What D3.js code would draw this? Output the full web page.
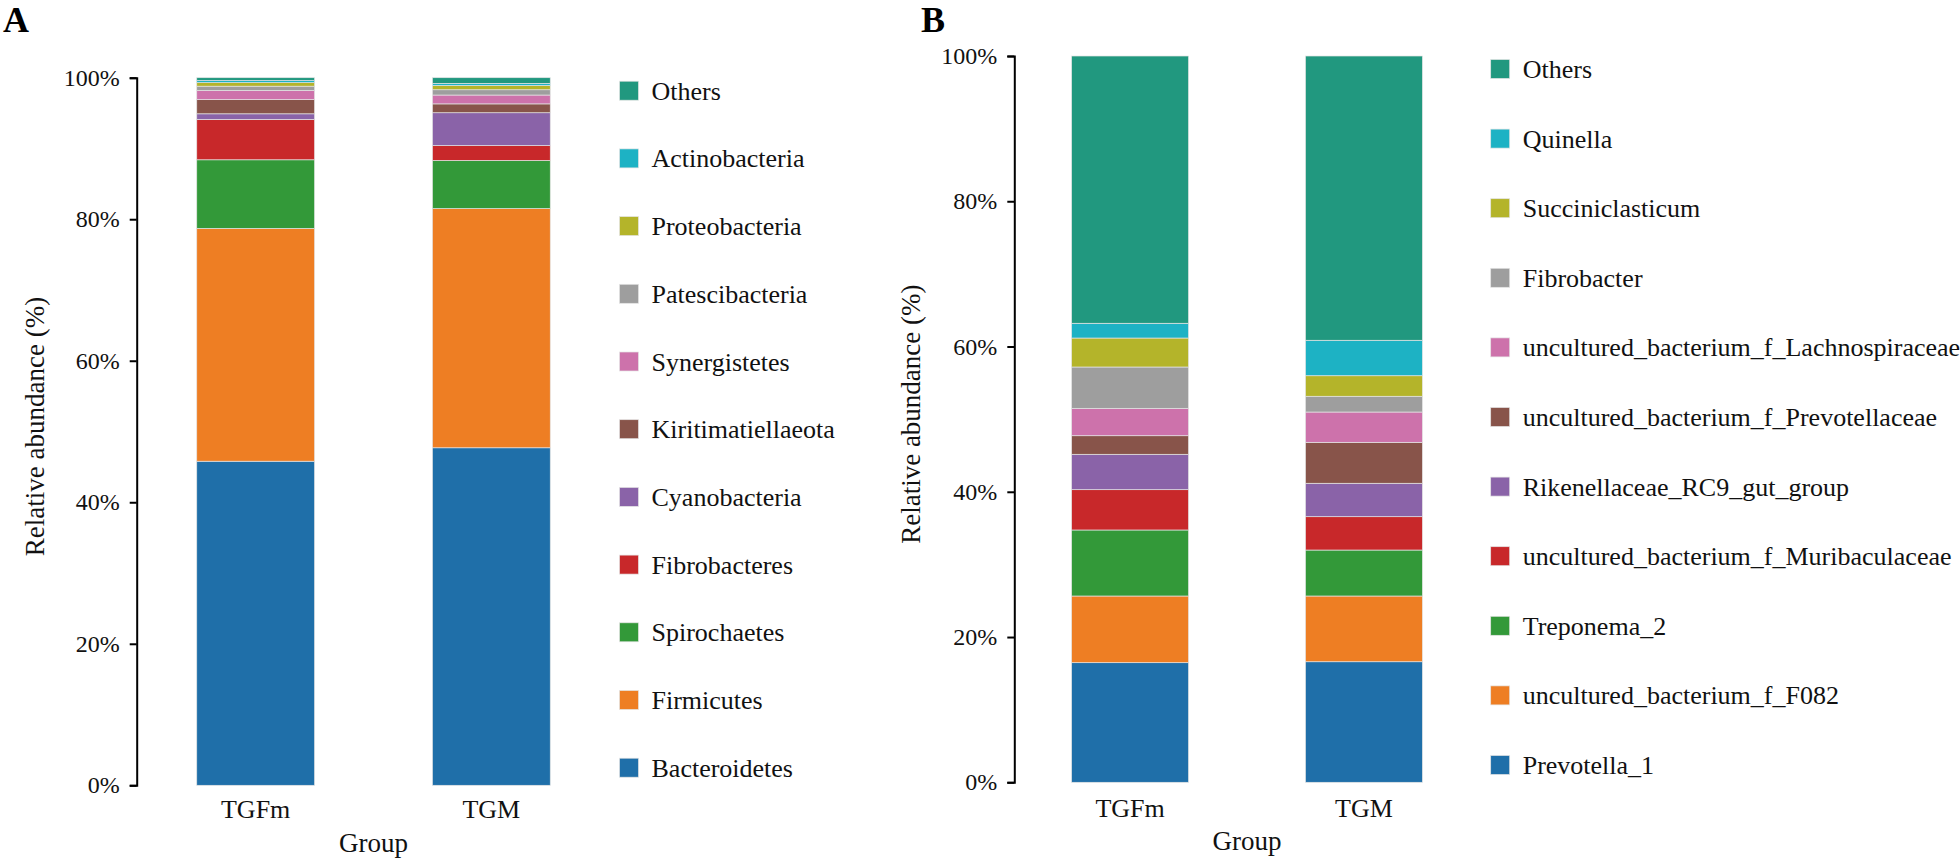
<!DOCTYPE html>
<html>
<head>
<meta charset="utf-8">
<script src="https://cdn.jsdelivr.net/npm/d3@7"></script>
<style>
  body { margin: 0; background: #fff; }
  svg { display: block; }
  svg text { font-family: 'Liberation Serif', 'Times New Roman', serif !important; }
</style>
</head>
<body>
<svg id="chart" width="1960" height="860"></svg>
<script>
// groups on the x axis
const groups = ['TGFm', 'TGM'];
const yTicks = [0, 20, 40, 60, 80, 100];

// panel A - phylum level, listed bottom to top
const phylumNames = ['Bacteroidetes', 'Firmicutes', 'Spirochaetes', 'Fibrobacteres', 'Cyanobacteria',
  'Kiritimatiellaeota', 'Synergistetes', 'Patescibacteria', 'Proteobacteria', 'Actinobacteria', 'Others'];
const phylumTGFm = [45.8, 32.9, 9.7, 5.7, 0.8, 2.0, 1.3, 0.6, 0.5, 0.3, 0.4];
const phylumTGM = [47.7, 33.8, 6.8, 2.1, 4.65, 1.25, 1.25, 0.75, 0.6, 0.3, 0.8];

// panel B - genus level, listed bottom to top
const genusNames = ['Prevotella_1', 'uncultured_bacterium_f_F082', 'Treponema_2',
  'uncultured_bacterium_f_Muribaculaceae', 'Rikenellaceae_RC9_gut_group',
  'uncultured_bacterium_f_Prevotellaceae', 'uncultured_bacterium_f_Lachnospiraceae',
  'Fibrobacter', 'Succiniclasticum', 'Quinella', 'Others'];
const genusTGFm = [16.47, 9.18, 9.09, 5.55, 4.87, 2.56, 3.77, 5.69, 3.99, 2.03, 36.8];
const genusTGM = [16.6, 9.05, 6.33, 4.59, 4.6, 5.64, 4.17, 2.17, 2.83, 4.88, 39.14];

const palette = ['#1f6fa9', '#ee7e23', '#339939', '#c8282a', '#8a63a8', '#88544a',
  '#cd72ab', '#9e9e9e', '#b4b42a', '#1db2c4', '#21987f'];

const serif = "'Liberation Serif', 'Times New Roman', serif";
const svg = d3.select('#chart');

function drawPanel(opts) {
  const { names, valuesByGroup, letter, letterX, axisX, yTop, yBottom,
    xRange, outerPad, legendX, legendTop, legendStep, titleX, xLabelPad, groupY } = opts;

  // build table for d3.stack
  const table = groups.map((g, gi) => {
    const row = { group: g };
    names.forEach((n, i) => { row[n] = valuesByGroup[gi][i]; });
    return row;
  });
  const color = d3.scaleOrdinal().domain(names).range(palette);

  const x = d3.scaleBand()
    .domain(groups)
    .range(xRange)
    .paddingInner(0.5)
    .paddingOuter(outerPad);

  const y = d3.scaleLinear()
    .domain([0, 100])
    .range([yBottom, yTop]);

  const series = d3.stack().keys(names)(table);

  const g = svg.append('g').attr('font-family', serif);

  // bars
  g.selectAll('.layer')
    .data(series)
    .enter()
    .append('g')
    .attr('fill', d => color(d.key))
    .selectAll('rect')
    .data(d => d)
    .enter()
    .append('rect')
    .attr('x', d => x(d.data.group))
    .attr('y', d => y(d[1]))
    .attr('width', x.bandwidth())
    .attr('height', d => y(d[0]) - y(d[1]))
    .attr('stroke', '#e4e4e4')
    .attr('stroke-width', 0.7);

  // y axis
  const yAxis = g.append('g')
    .attr('transform', `translate(${axisX},0)`)
    .call(d3.axisLeft(y)
      .tickValues(yTicks)
      .tickFormat(d => d + '%')
      .tickSize(7)
      .tickSizeOuter(7)
      .tickPadding(10))
    .attr('font-family', serif)
    .attr('font-size', 24);
  yAxis.select('.domain').attr('stroke', '#000').attr('stroke-width', 2);
  yAxis.selectAll('.tick line').attr('stroke', '#000').attr('stroke-width', 2);
  yAxis.selectAll('.tick text').attr('fill', '#111');

  // x axis labels only
  const xAxis = g.append('g')
    .attr('transform', `translate(0,${yBottom})`)
    .call(d3.axisBottom(x).tickSize(0).tickPadding(xLabelPad))
    .attr('font-family', serif)
    .attr('font-size', 26);
  xAxis.select('.domain').remove();
  xAxis.selectAll('.tick text').attr('fill', '#111');

  // axis titles
  g.append('text')
    .attr('x', (x(groups[0]) + x(groups[1]) + x.bandwidth()) / 2)
    .attr('y', groupY)
    .attr('text-anchor', 'middle')
    .attr('font-size', 27)
    .attr('fill', '#111')
    .text('Group');

  g.append('text')
    .attr('transform', `translate(${titleX},${(yTop + yBottom) / 2 - 5}) rotate(-90)`)
    .attr('text-anchor', 'middle')
    .attr('font-size', 27)
    .attr('fill', '#111')
    .text('Relative abundance (%)');

  // panel letter
  g.append('text')
    .attr('x', letterX)
    .attr('y', 32)
    .attr('font-size', 36)
    .attr('font-weight', 'bold')
    .attr('fill', '#000')
    .text(letter);

  // legend, top entry is the last series
  const legendItems = names.slice().reverse();
  const lg = g.append('g')
    .selectAll('g')
    .data(legendItems)
    .enter()
    .append('g')
    .attr('transform', (d, i) => `translate(${legendX},${legendTop + i * legendStep})`);
  lg.append('rect')
    .attr('x', 0)
    .attr('y', -9.5)
    .attr('width', 19)
    .attr('height', 19)
    .attr('fill', d => color(d))
    .attr('stroke', '#e4e4e4')
    .attr('stroke-width', 0.7);
  lg.append('text')
    .attr('x', 32)
    .attr('y', 9)
    .attr('font-size', 26)
    .attr('fill', '#111')
    .text(d => d);
}

drawPanel({
  names: phylumNames,
  valuesByGroup: [phylumTGFm, phylumTGM],
  letter: 'A',
  letterX: 3,
  axisX: 136.7,
  yTop: 77.7,
  yBottom: 785.3,
  xRange: [137, 610],
  outerPad: 0.2535,
  legendX: 619.5,
  legendTop: 90.7,
  legendStep: 67.7,
  titleX: 44,
  xLabelPad: 14,
  groupY: 851.5
});

drawPanel({
  names: genusNames,
  valuesByGroup: [genusTGFm, genusTGM],
  letter: 'B',
  letterX: 921,
  axisX: 1014.3,
  yTop: 56,
  yBottom: 782.3,
  xRange: [1014.3, 1479.7],
  outerPad: 0.245,
  legendX: 1490.7,
  legendTop: 69,
  legendStep: 69.6,
  titleX: 920,
  xLabelPad: 16,
  groupY: 850
});
</script>
</body>
</html>
